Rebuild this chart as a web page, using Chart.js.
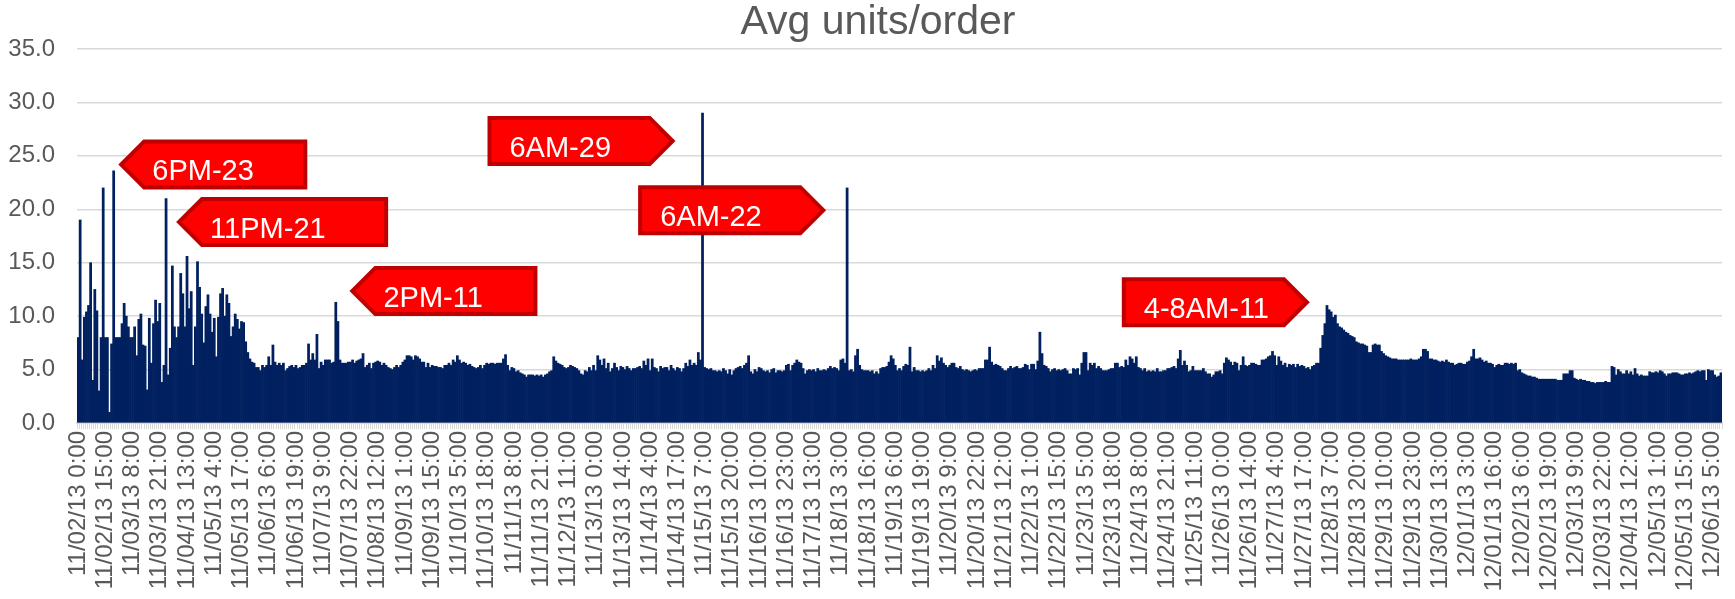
<!DOCTYPE html>
<html>
<head>
<meta charset="utf-8">
<title>Avg units/order</title>
<script src="https://cdn.jsdelivr.net/npm/chart.js@4.4.0/dist/chart.umd.min.js"></script>
<style>
  html, body { margin: 0; padding: 0; background: #fff; }
  canvas { display: block; }
</style>
</head>
<body>
<canvas id="chart" width="1735" height="599"></canvas>
<script>
// one label every 13 hourly buckets (hours without orders are missing)
const TICK_STEP = 13;
const tickLabels = [
  '11/02/13 0:00', '11/02/13 15:00', '11/03/13 8:00', '11/03/13 21:00', '11/04/13 13:00',
  '11/05/13 4:00', '11/05/13 17:00', '11/06/13 6:00', '11/06/13 19:00', '11/07/13 9:00',
  '11/07/13 22:00', '11/08/13 12:00', '11/09/13 1:00', '11/09/13 15:00', '11/10/13 5:00',
  '11/10/13 18:00', '11/11/13 8:00', '11/11/13 21:00', '11/12/13 11:00', '11/13/13 0:00',
  '11/13/13 14:00', '11/14/13 4:00', '11/14/13 17:00', '11/15/13 7:00', '11/15/13 20:00',
  '11/16/13 10:00', '11/16/13 23:00', '11/17/13 13:00', '11/18/13 3:00', '11/18/13 16:00',
  '11/19/13 6:00', '11/19/13 19:00', '11/20/13 9:00', '11/20/13 22:00', '11/21/13 12:00',
  '11/22/13 1:00', '11/22/13 15:00', '11/23/13 5:00', '11/23/13 18:00', '11/24/13 8:00',
  '11/24/13 21:00', '11/25/13 11:00', '11/26/13 0:00', '11/26/13 14:00', '11/27/13 4:00',
  '11/27/13 17:00', '11/28/13 7:00', '11/28/13 20:00', '11/29/13 10:00', '11/29/13 23:00',
  '11/30/13 13:00', '12/01/13 3:00', '12/01/13 16:00', '12/02/13 6:00', '12/02/13 19:00',
  '12/03/13 9:00', '12/03/13 22:00', '12/04/13 12:00', '12/05/13 1:00', '12/05/13 15:00',
  '12/06/13 5:00'
];

const avgUnits = [
  8.0,19.0,5.9,9.9,10.4,11.0,15.0,4.0,12.5,10.5,3.0,8.0,22.0,8.0,8.0,1.0,7.4,23.6,8.0,8.0,
  8.0,9.3,11.2,10.0,9.0,8.0,8.0,9.0,6.3,9.7,10.2,7.3,7.2,3.1,9.8,5.6,9.3,11.5,9.5,11.2,
  3.8,5.4,21.0,4.5,7.0,14.7,9.0,8.0,9.0,14.0,12.1,9.0,15.6,10.7,12.3,5.4,9.0,15.1,12.7,10.2,
  7.5,10.9,12.0,10.2,8.5,9.8,6.2,9.9,12.1,12.6,10.0,12.0,11.2,8.1,9.0,10.2,9.7,8.8,9.5,
  9.4,7.6,6.6,6.0,5.7,5.6,5.2,5.2,4.9,5.4,5.2,5.4,6.2,5.4,7.3,5.7,5.4,5.6,5.4,5.6,
  4.9,5.1,5.3,5.4,5.2,5.4,5.1,5.2,5.4,5.4,5.6,7.4,5.9,6.5,5.9,8.3,5.1,5.7,5.4,5.9,
  5.9,5.9,5.6,5.7,11.3,9.5,5.9,5.6,5.6,5.6,5.7,5.7,5.9,5.6,5.8,5.9,6.0,6.5,5.2,5.4,
  5.6,5.1,5.6,5.7,5.8,5.7,5.4,5.6,5.4,5.2,5.1,5.0,5.2,5.4,5.2,5.4,5.7,5.9,6.3,
  6.3,6.2,5.9,6.3,6.2,6.0,5.7,5.7,5.2,5.6,5.2,5.4,5.3,5.3,5.2,5.2,5.1,5.4,5.4,5.6,
  5.4,5.9,5.7,6.3,5.9,5.6,5.7,5.6,5.4,5.5,5.3,5.2,5.1,5.2,5.4,5.1,5.4,5.6,5.5,5.6,
  5.6,5.5,5.6,5.6,5.6,6.0,6.4,5.4,4.9,5.2,5.1,4.8,4.9,4.7,4.6,4.5,4.3,4.5,4.5,4.5,
  4.4,4.5,4.4,4.5,4.3,4.5,4.6,4.8,4.9,6.2,5.8,5.6,5.5,5.4,5.2,5.1,5.2,5.4,5.3,
  5.2,5.1,4.9,4.6,4.5,4.9,4.8,5.2,4.9,5.4,4.9,6.3,5.9,5.4,6.0,5.1,5.6,4.8,5.1,5.6,
  5.2,4.9,5.3,5.2,5.0,5.3,5.1,4.9,5.1,5.1,5.2,5.3,5.1,5.8,5.4,6.0,4.9,6.0,5.2,5.1,
  4.8,5.3,5.1,5.2,5.2,4.9,5.4,5.1,4.9,5.2,5.1,4.8,5.1,5.6,5.3,5.9,5.4,5.6,5.4,6.6,
  5.9,29.0,5.2,5.1,5.0,5.1,4.9,4.9,4.8,4.9,4.8,5.1,4.9,4.6,5.0,4.5,4.9,5.1,5.2,5.3,
  5.1,5.4,5.6,6.3,4.8,4.6,5.0,4.8,5.2,5.1,4.9,4.8,4.9,4.7,5.0,5.1,4.7,4.9,4.9,4.8,
  4.9,5.4,5.5,4.9,5.4,5.6,5.9,5.7,5.6,5.1,4.6,4.9,5.0,4.9,5.0,4.8,5.1,4.9,4.9,5.0,
  4.9,5.1,5.3,5.1,5.2,5.1,4.9,5.9,6.0,5.6,22.0,4.9,5.0,4.8,6.3,6.9,5.4,5.0,4.9,4.9,
  4.9,4.8,4.9,4.6,4.8,4.6,5.1,5.2,5.2,5.3,5.7,6.3,6.0,5.4,4.9,5.1,4.9,5.3,5.5,
  5.4,7.1,4.8,5.2,4.9,4.9,4.8,4.9,4.8,4.9,5.1,4.9,5.4,5.1,6.3,5.8,6.1,5.6,5.4,5.2,
  5.4,5.6,5.6,5.2,5.1,5.3,5.0,4.9,5.0,4.9,4.8,4.9,5.0,4.9,5.1,5.1,5.1,5.9,5.9,7.1,
  5.7,5.4,5.5,5.4,5.3,5.1,4.9,4.9,5.1,5.3,5.1,5.2,5.3,5.1,5.1,5.2,5.5,5.4,5.0,5.5,
  5.5,5.0,5.8,8.5,6.5,5.4,5.3,5.1,4.8,5.0,5.1,4.9,5.0,4.9,5.0,5.1,4.9,4.6,4.6,
  5.1,5.0,5.1,4.5,5.6,6.6,6.6,4.9,5.6,5.4,5.6,5.1,5.3,5.1,4.9,4.9,4.9,5.0,5.1,5.1,
  5.6,5.6,5.2,5.3,5.2,5.9,5.4,6.2,6.0,5.6,6.2,5.2,5.1,4.9,5.1,4.8,4.9,4.8,4.9,4.8,
  5.1,4.8,4.8,4.9,4.9,5.1,5.1,5.2,5.3,5.1,6.0,6.8,5.4,5.8,5.4,4.8,4.9,5.3,4.9,4.9,
  4.9,4.9,5.1,4.8,4.6,4.6,4.3,4.5,4.8,4.8,4.9,4.6,5.6,6.1,5.9,5.7,5.4,5.7,5.6,
  4.9,5.4,6.2,5.4,5.3,5.4,5.6,5.6,5.5,5.4,5.4,5.9,5.9,6.0,6.2,6.3,6.7,6.3,5.4,6.2,
  5.8,5.4,5.6,5.2,5.5,5.4,5.5,5.2,5.5,5.3,5.4,5.3,5.1,5.2,5.0,5.3,5.4,5.6,5.6,7.0,
  8.2,9.3,11.0,10.6,10.4,9.9,10.1,9.3,9.0,8.9,8.7,8.5,8.4,8.2,8.1,8.0,7.6,7.5,7.4,7.4,
  7.3,7.2,6.6,6.6,7.3,7.4,7.3,7.3,6.7,6.5,6.3,6.2,6.1,6.0,6.0,6.0,5.9,5.9,5.9,5.9,
  5.9,5.9,6.0,5.9,5.9,5.9,6.0,6.2,6.9,6.9,6.7,6.0,6.0,5.9,5.9,5.8,5.7,5.8,5.7,5.9,
  5.7,5.6,5.6,5.4,5.5,5.6,5.6,5.5,5.5,5.7,5.8,6.2,6.9,6.0,6.0,6.1,5.9,5.7,5.8,5.6,
  5.6,5.5,5.2,5.4,5.5,5.4,5.4,5.6,5.6,5.5,5.6,5.5,5.6,4.9,5.0,4.7,4.6,4.5,4.4,4.4,
  4.3,4.3,4.2,4.1,4.1,4.1,4.1,4.1,4.1,4.1,4.1,4.1,4.0,4.0,4.0,4.6,4.6,4.6,4.9,
  4.9,4.2,4.1,4.0,4.1,4.0,4.0,3.9,3.9,3.8,3.8,3.7,3.8,3.8,3.8,3.8,3.9,3.8,3.8,5.3,
  5.2,4.5,5.0,4.8,4.6,4.6,4.9,4.6,4.8,4.5,5.1,4.6,4.4,4.5,4.4,4.4,4.4,4.8,4.7,4.7,
  4.8,4.7,4.9,4.8,4.6,4.4,4.6,4.6,4.7,4.7,4.7,4.6,4.5,4.5,4.6,4.6,4.7,4.6,4.7,4.8,
  4.9,4.8,4.9,4.9,4.0,5.0,4.9,4.9,4.5,4.3,4.4,4.7
];

const categories = avgUnits.map((_, i) => i % TICK_STEP === 0 ? tickLabels[i / TICK_STEP] : '');

// red arrow call-outs; the tip sits at (bucket index, value)
const callouts = [
  { text: '6PM-23', at: 19.2, value: 24.2, dir: 'left', width: 189 },
  { text: '11PM-21', at: 46.8, value: 18.8, dir: 'left', width: 212 },
  { text: '2PM-11', at: 129.5, value: 12.35, dir: 'left', width: 188 },
  { text: '6AM-29', at: 285.1, value: 26.4, dir: 'right', width: 188 },
  { text: '6AM-22', at: 357.0, value: 19.9, dir: 'right', width: 188 },
  { text: '4-8AM-11', at: 587.8, value: 11.3, dir: 'right', width: 188 }
];

const FONT = '"Liberation Sans", Arial, sans-serif';
const TEXT_GREY = '#595959';
const GRID_GREY = '#d9d9d9';

function arrowPath(ctx, tipX, tipY, len, half, sign) {
  ctx.beginPath();
  ctx.moveTo(tipX, tipY);
  ctx.lineTo(tipX + sign * half, tipY - half);
  ctx.lineTo(tipX + sign * len, tipY - half);
  ctx.lineTo(tipX + sign * len, tipY + half);
  ctx.lineTo(tipX + sign * half, tipY + half);
  ctx.closePath();
}

const calloutPlugin = {
  id: 'callouts',
  afterLayout(chart) {
    // the Excel title sits a little right of the canvas centre
    const t = chart.titleBlock;
    if (t) { t.left += 34; t.top += 2; t.bottom += 2; }
  },
  afterDatasetsDraw(chart) {
    const { ctx, scales: { x, y } } = chart;
    const half = 25, border = 4;
    ctx.save();
    callouts.forEach(c => {
      const tipX = x.getPixelForValue(c.at);
      const tipY = y.getPixelForValue(c.value);
      const sign = c.dir === 'left' ? 1 : -1;
      arrowPath(ctx, tipX, tipY, c.width, half, sign);
      ctx.fillStyle = '#c00000';
      ctx.fill();
      const inTip = tipX + sign * border * Math.SQRT2;
      arrowPath(ctx, inTip, tipY, c.width - border - border * Math.SQRT2, half - border, sign);
      ctx.fillStyle = '#ff0000';
      ctx.fill();
      ctx.fillStyle = '#ffffff';
      ctx.font = '29px ' + FONT;
      ctx.textAlign = 'left';
      ctx.textBaseline = 'alphabetic';
      const textX = c.dir === 'left' ? tipX + 34 : tipX - c.width + 22;
      ctx.fillText(c.text, textX, tipY + 16);
    });
    ctx.restore();
  }
};

Chart.defaults.font.family = FONT;
Chart.defaults.color = TEXT_GREY;

new Chart(document.getElementById('chart'), {
  type: 'bar',
  data: {
    labels: categories,
    datasets: [{
      data: avgUnits,
      backgroundColor: '#002060',
      borderWidth: 0,
      barPercentage: 1,
      categoryPercentage: 1
    }]
  },
  plugins: [calloutPlugin],
  options: {
    responsive: false,
    animation: false,
    layout: { padding: { left: 0, right: 13, top: 0, bottom: 0 } },
    plugins: {
      legend: { display: false },
      tooltip: { enabled: false },
      title: {
        display: true,
        text: 'Avg units/order',
        color: TEXT_GREY,
        font: { size: 41, weight: 'normal', family: FONT, lineHeight: 1.0 },
        padding: { top: 0, bottom: 8 }
      }
    },
    scales: {
      x: {
        afterFit(scale) {
          scale.height = 176;
          scale.paddingLeft = 0;
          scale.paddingRight = 0;
        },
        grid: {
          display: true,
          drawOnChartArea: false,
          drawTicks: true,
          tickLength: 6,
          color: GRID_GREY,
          lineWidth: 1
        },
        border: { display: true, color: GRID_GREY, width: 2 },
        ticks: {
          autoSkip: false,
          minRotation: 90,
          maxRotation: 90,
          padding: 2,
          color: TEXT_GREY,
          font: { size: 24 }
        }
      },
      y: {
        min: 0,
        max: 35,
        afterFit(scale) { scale.width = 77; },
        grid: { color: GRID_GREY, lineWidth: 1.5, drawTicks: false },
        border: { display: false },
        ticks: {
          stepSize: 5,
          padding: 22,
          color: TEXT_GREY,
          font: { size: 24 },
          callback: v => v.toFixed(1)
        }
      }
    }
  }
});
</script>
</body>
</html>
